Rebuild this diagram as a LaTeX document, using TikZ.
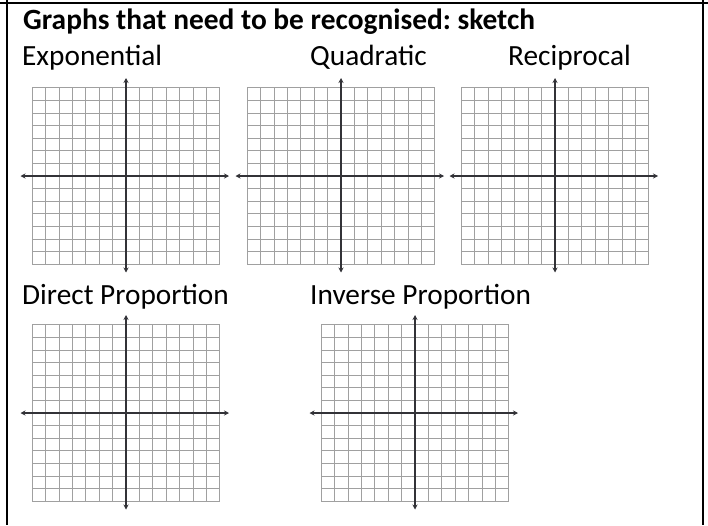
\documentclass[tikz,border=0pt]{standalone}
\usepackage{fontspec}
\setmainfont{Carlito}
\usepackage{tikz}
\usetikzlibrary{arrows.meta}
\frenchspacing
\definecolor{mygrid}{RGB}{160,160,160}
\definecolor{myaxis}{RGB}{50,50,55}
\definecolor{myframe}{RGB}{0,0,0}
\tikzset{
  gridline/.style={line width=0.75pt, color=mygrid},
  axis/.style={{Stealth[length=5pt,width=5pt]}-{Stealth[length=5pt,width=5pt]},
    line width=1.5pt, color=myaxis},
  frame/.style={line width=2.2pt, color=myframe},
  heading/.style={anchor=base west, inner sep=0pt,
    font=\fontsize{29.4}{35}\selectfont\bfseries},
  graphname/.style={anchor=base west, inner sep=0pt,
    font=\fontsize{29.3}{35}\selectfont}
}
% one blank 14 x 14 grid with both axes, centred on a named coordinate
\newcommand{\sketchgrid}[1]{%
  \begin{scope}[shift={(#1)}]
    \foreach \k in {-7,...,7} {
      \draw[gridline] (\k*13.4,-88.2) -- (\k*13.4,88.2);
      \draw[gridline] (-93.8,\k*12.6) -- (93.8,\k*12.6);
    }
    \coordinate (#1-w) at (-105.5,0);
    \coordinate (#1-e) at (103,0);
    \coordinate (#1-n) at (0,-98);
    \coordinate (#1-s) at (0,96.5);
    \draw[axis] (#1-w) -- (#1-e);
    \draw[axis] (#1-s) -- (#1-n);
  \end{scope}%
}

\begin{document}
\begin{tikzpicture}[x=1pt, y=-1pt]
  \useasboundingbox (0,0) rectangle (708,525);
  % cell border
  \draw[frame] (0,3) -- (708,3);
  \draw[frame] (7,0) -- (7,525);
  \draw[frame] (703,0) -- (703,525);

  \node[heading] (title) at (23,29.5) {Graphs that need to be recognised: sketch};
  \node[graphname] (expo) at (22,65) {Exponential};
  \node[graphname] (quad) at (310,65) {Quadratic};
  \node[graphname] (recip) at (508,65) {Reciprocal};
  \node[graphname] (direct) at (22,304) {Direct Proportion};
  \node[graphname] (inverse) at (310,304) {Inverse Proportion};

  \coordinate (expog) at (126,176);
  \coordinate (quadg) at (341,176);
  \coordinate (recipg) at (555,176);
  \coordinate (directg) at (126,413);
  \coordinate (inverseg) at (415,413);
  \sketchgrid{expog}
  \sketchgrid{quadg}
  \sketchgrid{recipg}
  \sketchgrid{directg}
  \sketchgrid{inverseg}
\end{tikzpicture}
\end{document}
